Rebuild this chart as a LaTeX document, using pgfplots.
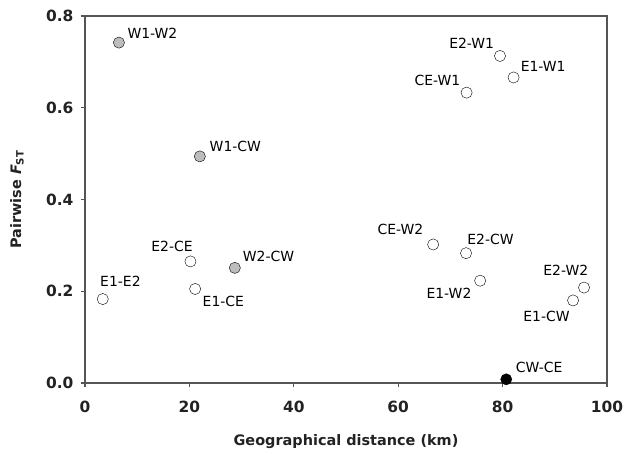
\documentclass[border=0pt]{standalone}
\usepackage{pgfplots}
\pgfplotsset{compat=1.18}
\usepackage{fontspec}
\setmainfont{DejaVu Sans}

\definecolor{axgray}{HTML}{555555}
\definecolor{ptgray}{HTML}{BDBDBD}
\definecolor{txt}{HTML}{222222}

\newcommand{\lab}{\fontsize{14}{15}\selectfont}

\begin{document}
\begin{tikzpicture}
\useasboundingbox (-85bp,-71bp) rectangle (540bp,383bp);
\begin{axis}[
    anchor=south west, at={(0,0)},
    scale only axis,
    width=522bp, height=367bp,
    xmin=0, xmax=100, ymin=0, ymax=0.8,
    xtick={0,20,...,100},
    ytick={0,0.2,...,0.8},
    xtick pos=bottom, ytick pos=left,
    tick align=outside,
    major tick length=4bp,
    axis line style={axgray, line width=1.4bp},
    tick style={axgray, line width=1.2bp},
    /pgf/number format/assume math mode=true,
    tick label style={font=\bfseries\fontsize{15.5}{18}\selectfont, text=txt},
    yticklabel style={xshift=-4bp, /pgf/number format/.cd, fixed, fixed zerofill, precision=1},
    xticklabel style={yshift=-11bp, /pgf/number format/.cd, fixed, precision=0},
    xlabel={Geographical distance (km)},
    ylabel={Pairwise {\itshape F}\textsubscript{ST}},
    label style={font=\bfseries\fontsize{14.5}{17}\selectfont, text=txt},
    xlabel style={at={(rel axis cs:0.5,0)}, anchor=center, yshift=-59bp},
    ylabel style={at={(rel axis cs:0,0.5)}, anchor=center, yshift=68bp},
    clip=false,
    every axis plot/.append style={only marks, mark=*, mark size=5.6bp,
        mark options={draw=black, line width=1.4bp}},
    every node/.append style={text=txt},
]
% within-west pairs (grey)
\addplot[mark options={fill=ptgray}] coordinates {
    (6.5,0.742) (22.0,0.494) (28.7,0.251)
};
% other pairs (open)
\addplot[mark options={fill=white}] coordinates {
    (3.4,0.183) (20.2,0.265) (21.1,0.205) (66.7,0.302) (73.0,0.283)
    (75.7,0.223) (95.6,0.208) (93.5,0.180) (79.5,0.713) (82.1,0.666)
    (73.1,0.633)
};
% CW-CE (black)
\addplot[mark options={fill=black}] coordinates {
    (80.7,0.008)
};

\node[font=\lab, xshift=33.5bp, yshift=9.7bp]  at (axis cs:6.5,0.742) {W1-W2};
\node[font=\lab, xshift=35.5bp, yshift=10bp]   at (axis cs:22.0,0.494) {W1-CW};
\node[font=\lab, xshift=33.7bp, yshift=11bp]   at (axis cs:28.7,0.251) {W2-CW};
\node[font=\lab, xshift=17.7bp, yshift=17.7bp] at (axis cs:3.4,0.183) {E1-E2};
\node[font=\lab, xshift=-18.4bp, yshift=15bp]  at (axis cs:20.2,0.265) {E2-CE};
\node[font=\lab, xshift=28.2bp, yshift=-12.3bp] at (axis cs:21.1,0.205) {E1-CE};
\node[font=\lab, xshift=-32.7bp, yshift=15.3bp] at (axis cs:66.7,0.302) {CE-W2};
\node[font=\lab, xshift=24.4bp, yshift=14bp]   at (axis cs:73.0,0.283) {E2-CW};
\node[font=\lab, xshift=-31.2bp, yshift=-12.6bp] at (axis cs:75.7,0.223) {E1-W2};
\node[font=\lab, xshift=-18.2bp, yshift=17.3bp] at (axis cs:95.6,0.208) {E2-W2};
\node[font=\lab, xshift=-26.6bp, yshift=-16bp] at (axis cs:93.5,0.180) {E1-CW};
\node[font=\lab, xshift=32.8bp, yshift=12.3bp] at (axis cs:80.7,0.008) {CW-CE};
\node[font=\lab, xshift=-28.3bp, yshift=12.7bp] at (axis cs:79.5,0.713) {E2-W1};
\node[font=\lab, xshift=29.6bp, yshift=10.6bp] at (axis cs:82.1,0.666) {E1-W1};
\node[font=\lab, xshift=-29.2bp, yshift=11.7bp] at (axis cs:73.1,0.633) {CE-W1};
\end{axis}
\end{tikzpicture}
\end{document}
